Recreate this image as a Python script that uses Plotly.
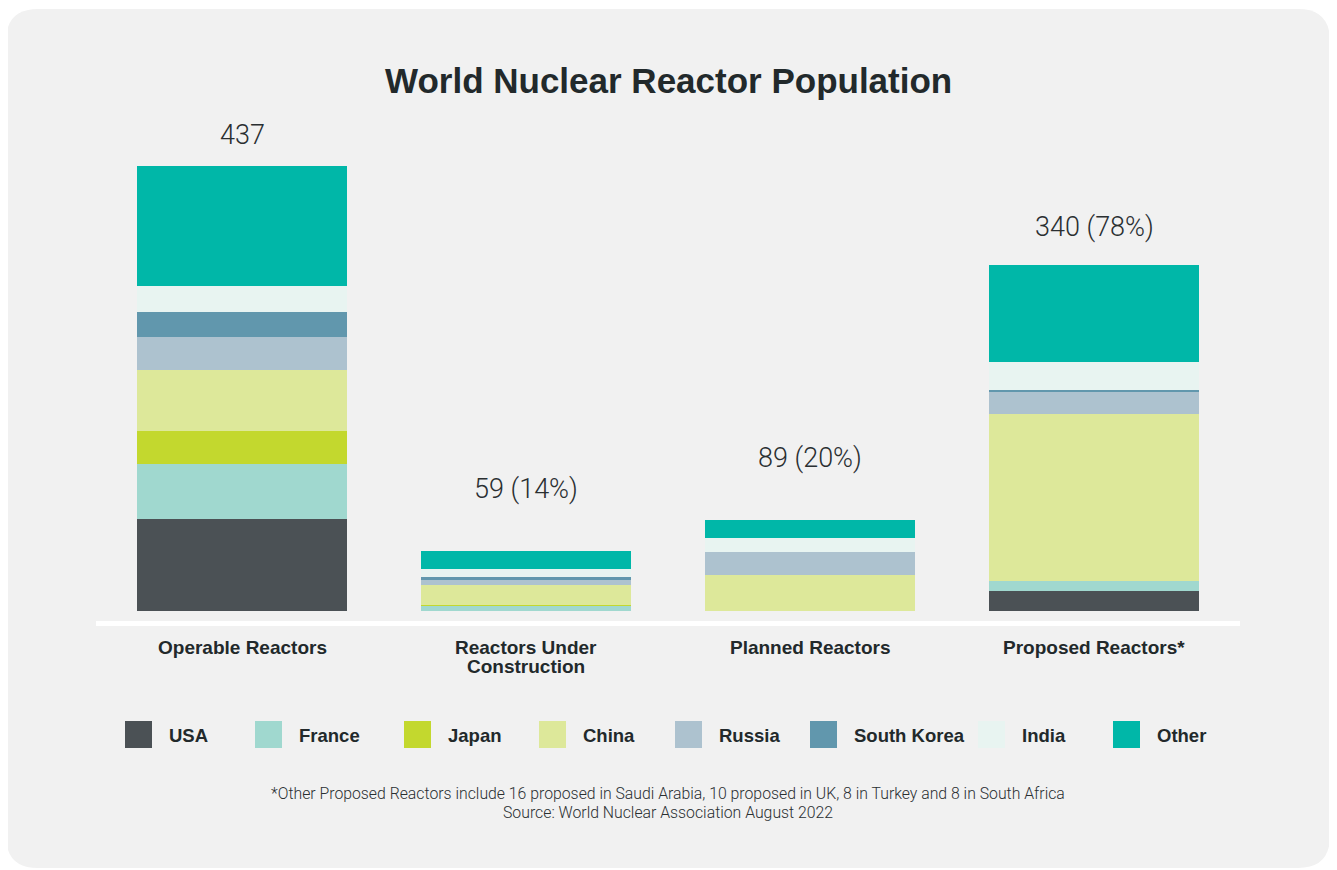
import plotly.graph_objects as go

# ---------------- data ----------------
categories = ["Operable Reactors", "Reactors Under Construction",
              "Planned Reactors", "Proposed Reactors*"]
category_labels = ["Operable Reactors", "Reactors Under<br>Construction",
                   "Planned Reactors", "Proposed Reactors*"]

series_names = ["USA", "France", "Japan", "China", "Russia",
                "South Korea", "India", "Other"]
usa = [90, 0, 0, 20]
france = [54, 5, 0, 9]
japan = [33, 1, 0, 0]
china = [60, 20, 35, 164]
russia = [32, 4, 23, 22]
south_korea = [25, 3, 0, 2]
india = [25, 8, 14, 28]
other = [118, 18, 17, 95]
series_values = [usa, france, japan, china, russia, south_korea, india, other]

colors = ["#4b5155", "#a0d8cf", "#c3d82e", "#dde89a", "#adc2cf",
          "#6197ad", "#e8f4f1", "#00b7a8"]

title_text = "World Nuclear Reactor Population"
footnote_lines = [
    "*Other Proposed Reactors include 16 proposed in Saudi Arabia, 10 proposed in UK, 8 in Turkey and 8 in South Africa",
    "Source: World Nuclear Association August 2022",
]

# ---------------- layout geometry (pixels) ----------------
OFF = 8  # page body margin
W, H = 1337 - OFF, 870 - OFF
L, R_ = 100 - OFF, 101
T, B = 100 - OFF, 259
plot_w = W - L - R_
plot_h = H - T - B
Y_MAX = 501.8
TEXT = "#22292b"
BOLD = "Liberation Sans"
LIGHT = "Roboto"


def px_x(px):
    return (px - OFF - L) / plot_w


def px_y(py):
    return (H - B - (py - OFF)) / plot_h


fig = go.Figure()
for name, vals, col in zip(series_names, series_values, colors):
    fig.add_trace(go.Bar(
        x=categories, y=vals, name=name,
        marker=dict(color=col, line=dict(width=0)),
        showlegend=False, hoverinfo="x+y+name",
    ))

totals = [sum(v[i] for v in series_values) for i in range(len(categories))]
value_labels = []
for i, t in enumerate(totals):
    if i == 0:
        value_labels.append(f"{t}")
    else:
        value_labels.append(f"{t} ({round(100 * t / totals[0])}%)")

label_shift = [31, 62, 62, 38]
annotations = []
for cat, t, lab, sh in zip(categories, totals, value_labels, label_shift):
    annotations.append(dict(
        x=cat, y=t, xref="x", yref="y", text=lab, showarrow=False,
        yanchor="middle", yshift=sh,
        font=dict(family=LIGHT, size=27, color="#2a2f31", weight=300),
    ))

# category labels
for cat, lab in zip(categories, category_labels):
    for j, line in enumerate(lab.split("<br>")):
        annotations.append(dict(
            x=cat, y=px_y(647 + 19 * j), xref="x", yref="paper",
            text=line, showarrow=False, yanchor="middle",
            font=dict(family=BOLD, size=19, color=TEXT, weight="bold"),
        ))

# title
annotations.append(dict(
    x=px_x(668), y=px_y(80), xref="paper", yref="paper", text=title_text,
    showarrow=False, yanchor="middle", xanchor="center",
    font=dict(family=BOLD, size=35, color=TEXT, weight="bold"),
))

# footnotes
for j, line in enumerate(footnote_lines):
    annotations.append(dict(
        x=px_x(668), y=px_y(793 + 19 * j), xref="paper", yref="paper",
        text=line, showarrow=False, yanchor="middle", xanchor="center",
        font=dict(family=LIGHT, size=15.8, color="#2a2f31", weight=300),
    ))

shapes = []
# rounded card background
x0, y0, x1, y1, r = 6, 9, 1330, 868, 32
pts = lambda a, b: f"{px_x(a)},{px_y(b)}"
path = (f"M {pts(x0 + r, y0)} L {pts(x1 - r, y0)} Q {pts(x1, y0)} {pts(x1, y0 + r)} "
        f"L {pts(x1, y1 - r)} Q {pts(x1, y1)} {pts(x1 - r, y1)} "
        f"L {pts(x0 + r, y1)} Q {pts(x0, y1)} {pts(x0, y1 - r)} "
        f"L {pts(x0, y0 + r)} Q {pts(x0, y0)} {pts(x0 + r, y0)} Z")
shapes.append(dict(type="path", path=path, xref="paper", yref="paper",
                   fillcolor="#f1f1f1", line=dict(width=0), layer="below"))
# white baseline
shapes.append(dict(type="line", xref="paper", yref="paper",
                   x0=px_x(96), x1=px_x(1240), y0=px_y(623.5), y1=px_y(623.5),
                   line=dict(color="#ffffff", width=5), layer="above"))

# custom legend
legend_sq_x = [125, 255, 404, 539, 675, 810, 978, 1113]
sq = 27
for name, col, lx in zip(series_names, colors, legend_sq_x):
    shapes.append(dict(type="rect", xref="paper", yref="paper",
                       x0=px_x(lx), x1=px_x(lx + sq), y0=px_y(721), y1=px_y(721 + sq),
                       fillcolor=col, line=dict(width=0)))
    annotations.append(dict(
        x=px_x(lx + sq + 15), y=px_y(735), xref="paper", yref="paper",
        text=name, showarrow=False, xanchor="left", yanchor="middle",
        font=dict(family=BOLD, size=18.5, color=TEXT, weight="bold"),
    ))

fig.update_layout(
    width=W, height=H,
    margin=dict(l=L, r=R_, t=T, b=B),
    paper_bgcolor="#ffffff", plot_bgcolor="rgba(0,0,0,0)",
    barmode="stack", bargap=1 - 210 / 284,
    xaxis=dict(showticklabels=False, showgrid=False, zeroline=False,
               showline=False, ticks="", range=[-0.5, 3.5]),
    yaxis=dict(visible=False, range=[0, Y_MAX], showgrid=False, zeroline=False),
    shapes=shapes, annotations=annotations,
)

fig.write_html("out.html")
